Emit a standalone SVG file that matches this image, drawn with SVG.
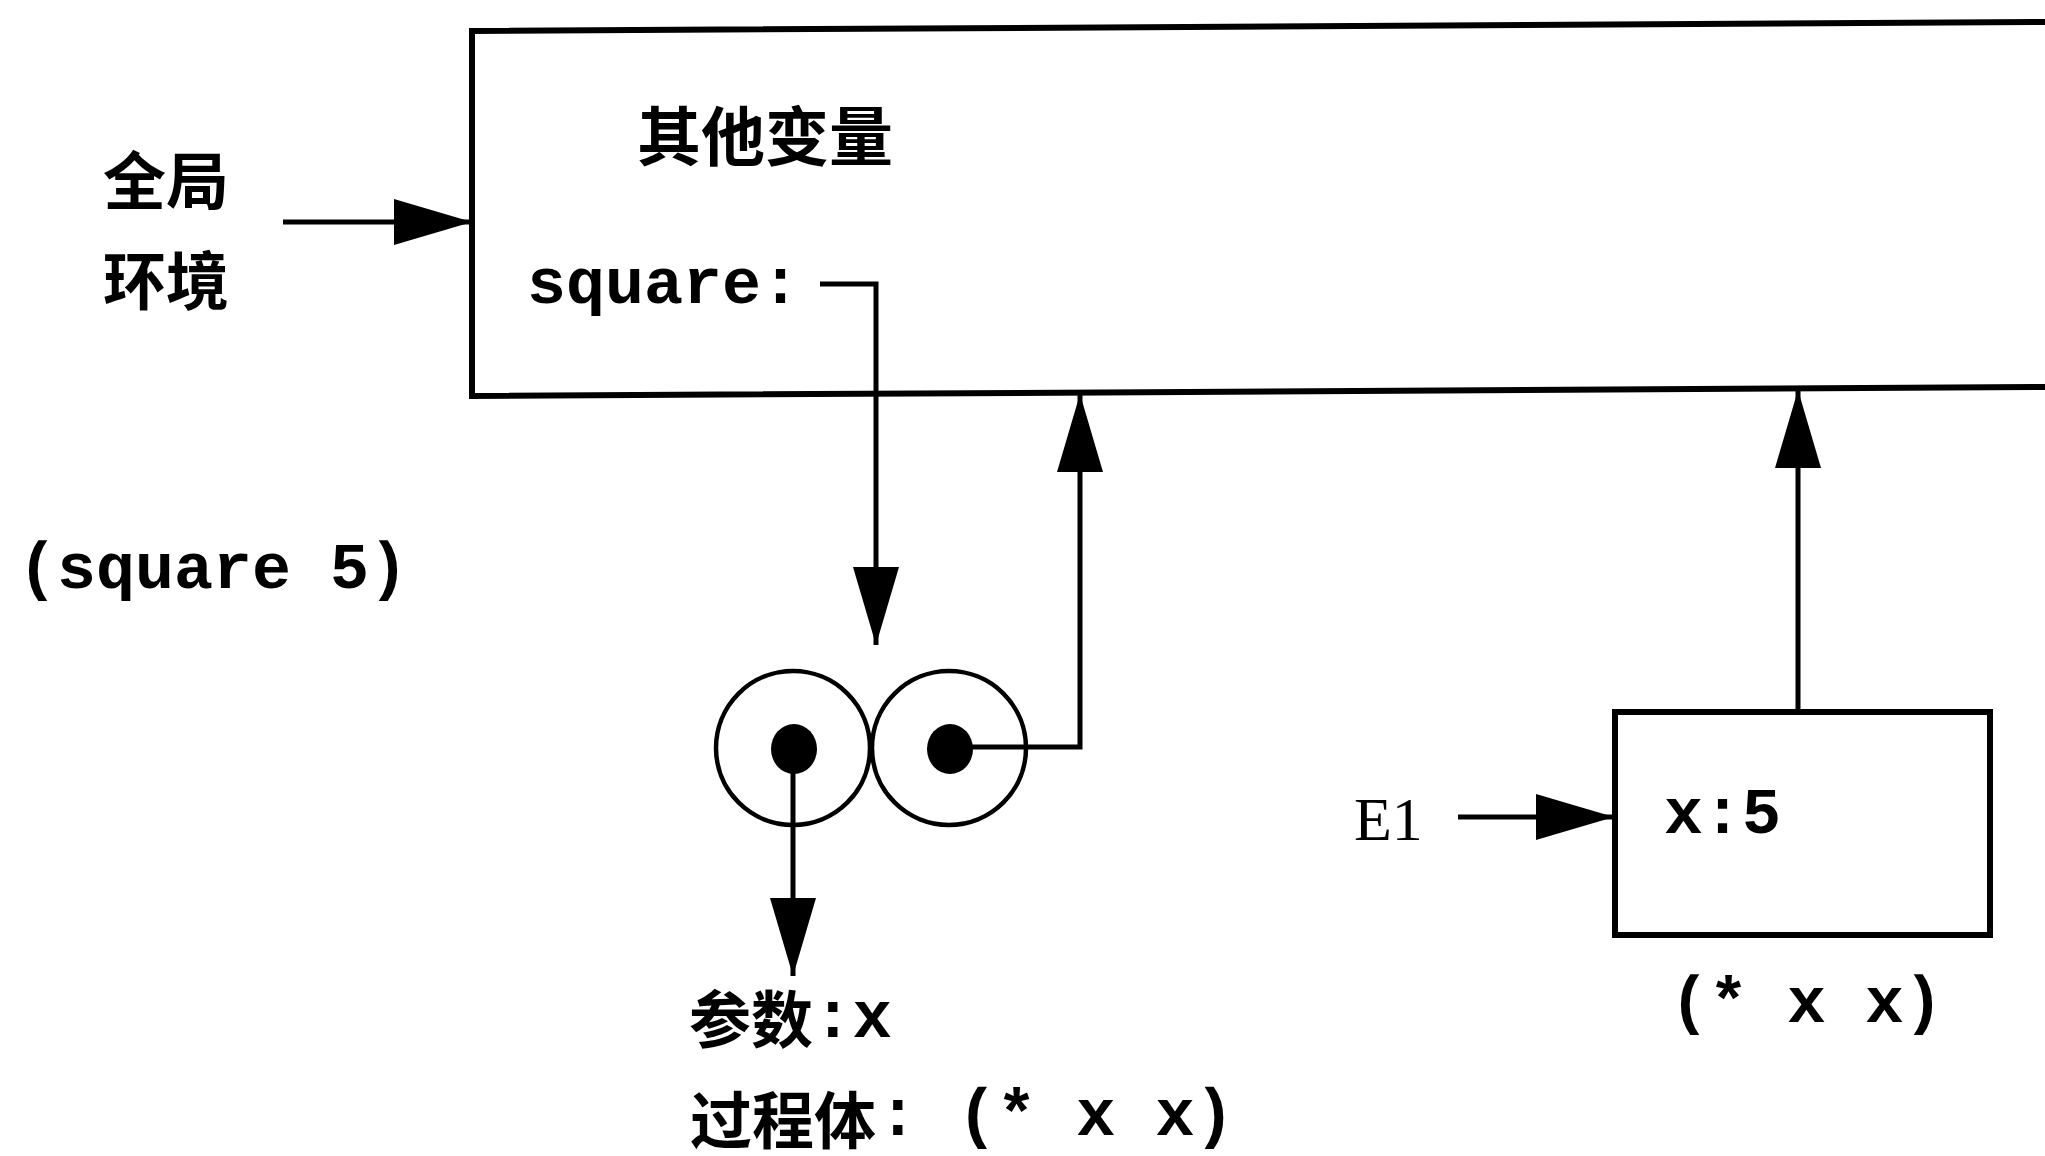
<svg xmlns="http://www.w3.org/2000/svg" width="2045" height="1156" viewBox="0 0 2045 1156">
<style>
.cjk{font-family:"Noto Sans CJK SC","Noto Sans",sans-serif;font-weight:bold;font-size:63px;fill:#000}
.mono{font-family:"Liberation Mono","DejaVu Sans Mono",monospace;font-weight:bold;font-size:65px;fill:#000}
.serif{font-family:"Liberation Serif","DejaVu Serif",serif;font-size:62px;fill:#000}
.frame{fill:none;stroke:#000;stroke-width:6}
.line{fill:none;stroke:#000;stroke-width:5}
.circ{fill:none;stroke:#000;stroke-width:4.5}
</style>
<defs>
<marker id="ah" markerUnits="userSpaceOnUse" markerWidth="82" markerHeight="48" refX="78" refY="23" orient="auto" viewBox="0 0 82 48">
<path d="M0,0 L78,23 L0,46 Z" fill="#000"/>
</marker>
</defs>
<rect width="2045" height="1156" fill="#fff"/>

<g id="global-env-label">
<text class="cjk" x="103" y="204">全局</text>
<text class="cjk" x="103" y="304">环境</text>
</g>

<g id="global-frame">
<path class="frame" d="M2050,22 L472,31 L472,396 L2050,387"/>
<text class="cjk" x="637" y="160" style="font-size:64px">其他变量</text>
<text class="mono" x="527" y="303">square:</text>
</g>

<g id="call-expr">
<text class="mono" x="18" y="588">(square 5)</text>
</g>

<g id="procedure-pair">
<circle class="circ" cx="793" cy="748" r="77"/>
<circle class="circ" cx="949" cy="748" r="77"/>
<ellipse cx="794" cy="749" rx="23" ry="25" fill="#000"/>
<ellipse cx="950" cy="749" rx="23" ry="25" fill="#000"/>
</g>

<g id="procedure-text">
<text class="cjk" x="689" y="1043" style="font-size:62px">参数</text>
<text class="mono" x="813" y="1037" style="font-size:66px">:x</text>
<text class="cjk" x="690" y="1144" style="font-size:62px">过程体</text>
<text class="mono" x="878" y="1135" style="font-size:66px">: (* x x)</text>
</g>

<g id="e1-label">
<text class="serif" x="1354" y="840">E1</text>
</g>

<g id="e1-frame">
<rect class="frame" x="1615" y="712" width="375" height="223"/>
<text class="mono" x="1664" y="833">x:5</text>
</g>

<g id="e1-body">
<text class="mono" x="1670" y="1022">(* x x)</text>
</g>

<g id="connectors">
<path class="line" d="M283,222 L472,222" marker-end="url(#ah)"/>
<path class="line" d="M820,284 L876,284 L876,645" marker-end="url(#ah)"/>
<path class="line" d="M950,747 L1080,747 L1080,394" marker-end="url(#ah)"/>
<path class="line" d="M793,749 L793,976" marker-end="url(#ah)"/>
<path class="line" d="M1458,817 L1614,817" marker-end="url(#ah)"/>
<path class="line" d="M1798,712 L1798,390" marker-end="url(#ah)"/>
</g>
</svg>
